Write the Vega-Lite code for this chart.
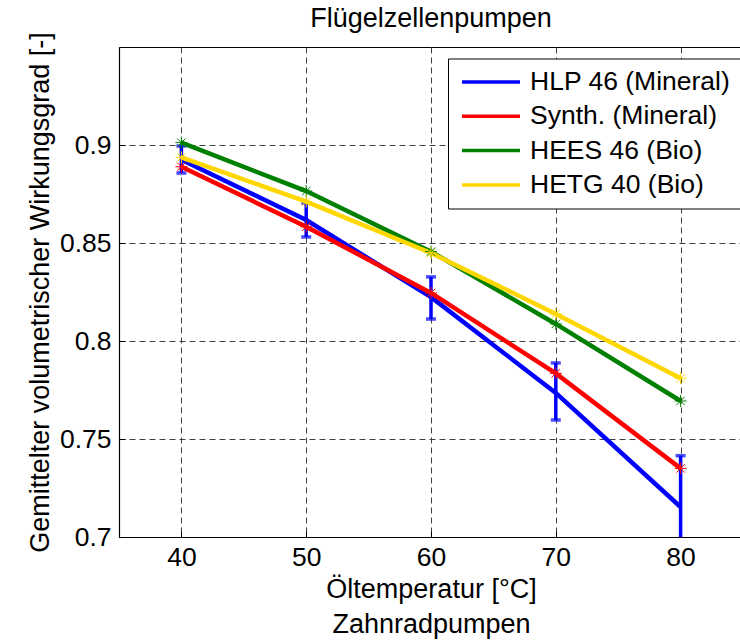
{
  "$schema": "https://vega.github.io/schema/vega-lite/v6.json",
  "width": 624,
  "height": 490,
  "autosize": {"type": "none"},
  "padding": {"left": 119, "top": 47, "right": 0, "bottom": 103},
  "background": "white",
  "title": {"text": "Flügelzellenpumpen", "font": "Liberation Sans", "fontSize": 27, "fontWeight": "normal", "color": "black", "anchor": "middle", "frame": "group", "baseline": "bottom", "offset": 14, "dy": 42},
  "config": {
    "view": {"stroke": "black", "strokeWidth": 1},
    "font": "Liberation Sans",
    "axis": {
      "labelFont": "Liberation Sans", "labelFontSize": 26.5, "labelColor": "black",
      "titleFont": "Liberation Sans", "titleFontSize": 27, "titleFontWeight": "normal", "titleColor": "black",
      "grid": true, "gridColor": "#404040", "gridDash": [6, 4], "gridWidth": 1, "gridOpacity": 1,
      "tickColor": "black", "tickSize": -6, "tickWidth": 1,
      "domainColor": "black", "domainWidth": 1.2
    },
    "legend": {
      "orient": "none", "legendX": 329, "legendY": 11.5,
      "symbolType": "stroke", "symbolSize": 3364, "symbolStrokeWidth": 3.5,
      "labelFont": "Liberation Sans", "labelFontSize": 26.5, "labelColor": "black",
      "strokeColor": "black", "strokeWidth": 1, "fillColor": "white",
      "padding": 10, "rowPadding": 7.3, "clipHeight": 27, "symbolOffset": 2, "labelOffset": 8, "labelLimit": 400
    }
  },
  "datasets": {
    "lines": [
      {"oil": "HLP 46 (Mineral)", "t": 40, "eta": 0.8925},
      {"oil": "HLP 46 (Mineral)", "t": 50, "eta": 0.8617},
      {"oil": "HLP 46 (Mineral)", "t": 60, "eta": 0.8224},
      {"oil": "HLP 46 (Mineral)", "t": 70, "eta": 0.7735},
      {"oil": "HLP 46 (Mineral)", "t": 80, "eta": 0.7153},
      {"oil": "Synth. (Mineral)", "t": 40, "eta": 0.8889},
      {"oil": "Synth. (Mineral)", "t": 50, "eta": 0.8583},
      {"oil": "Synth. (Mineral)", "t": 60, "eta": 0.8245},
      {"oil": "Synth. (Mineral)", "t": 70, "eta": 0.7835},
      {"oil": "Synth. (Mineral)", "t": 80, "eta": 0.735},
      {"oil": "HEES 46 (Bio)", "t": 40, "eta": 0.9012},
      {"oil": "HEES 46 (Bio)", "t": 50, "eta": 0.8765},
      {"oil": "HEES 46 (Bio)", "t": 60, "eta": 0.8456},
      {"oil": "HEES 46 (Bio)", "t": 70, "eta": 0.8087},
      {"oil": "HEES 46 (Bio)", "t": 80, "eta": 0.7694},
      {"oil": "HETG 40 (Bio)", "t": 40, "eta": 0.8937},
      {"oil": "HETG 40 (Bio)", "t": 50, "eta": 0.8711},
      {"oil": "HETG 40 (Bio)", "t": 60, "eta": 0.8449},
      {"oil": "HETG 40 (Bio)", "t": 70, "eta": 0.8138},
      {"oil": "HETG 40 (Bio)", "t": 80, "eta": 0.781}
    ],
    "err": [
      {"t": 40, "lo": 0.8857, "hi": 0.8995},
      {"t": 50, "lo": 0.8531, "hi": 0.8704},
      {"t": 60, "lo": 0.8112, "hi": 0.8327},
      {"t": 70, "lo": 0.7597, "hi": 0.7888},
      {"t": 80, "lo": 0.689, "hi": 0.7415}
    ]
  },
  "layer": [
    {
      "data": {"name": "err"},
      "mark": {"type": "rule", "color": "#0000FF", "strokeWidth": 3.5, "clip": true},
      "encoding": {
        "x": {"field": "t", "type": "quantitative", "scale": {"domain": [35, 85], "nice": false, "zero": false},
              "axis": {"values": [40, 50, 60, 70, 80], "format": "d", "labelPadding": 13,
                       "title": ["Öltemperatur [°C]", "Zahnradpumpen"], "titleLineHeight": 35,
                       "titleBaseline": "alphabetic", "titleX": 312, "titleY": 60, "titleAlign": "center"}},
        "y": {"field": "lo", "type": "quantitative", "scale": {"domain": [0.7, 0.95], "nice": false, "zero": false},
              "axis": {"values": [0.7, 0.75, 0.8, 0.85, 0.9], "format": ".2~f", "labelPadding": 14,
                       "title": "Gemittelter volumetrischer Wirkungsgrad [-]",
                       "titleX": -71, "titleY": 245, "titleAngle": 270, "titleAlign": "center", "titleBaseline": "alphabetic"}},
        "y2": {"field": "hi"}
      }
    },
    {
      "data": {"name": "err"},
      "mark": {"type": "tick", "orient": "horizontal", "color": "#0000FF", "size": 10, "thickness": 3.5, "clip": true},
      "encoding": {
        "x": {"field": "t", "type": "quantitative"},
        "y": {"field": "hi", "type": "quantitative"}
      }
    },
    {
      "data": {"name": "err"},
      "mark": {"type": "tick", "orient": "horizontal", "color": "#0000FF", "size": 10, "thickness": 3.5, "clip": true},
      "encoding": {
        "x": {"field": "t", "type": "quantitative"},
        "y": {"field": "lo", "type": "quantitative"}
      }
    },
    {
      "data": {"name": "lines"},
      "mark": {"type": "line", "strokeWidth": 4.5, "clip": true},
      "encoding": {
        "x": {"field": "t", "type": "quantitative"},
        "y": {"field": "eta", "type": "quantitative"},
        "color": {"field": "oil", "type": "nominal",
                  "scale": {"domain": ["HLP 46 (Mineral)", "Synth. (Mineral)", "HEES 46 (Bio)", "HETG 40 (Bio)"],
                            "range": ["#0000FF", "#FF0000", "#008000", "#FFD700"]},
                  "legend": {"title": null}}
      }
    },
    {
      "data": {"name": "lines"},
      "transform": [{"filter": "datum.oil != 'HLP 46 (Mineral)'"}],
      "mark": {"type": "point", "shape": "M-1,0H1M0,-1V1M-0.7,-0.7L0.7,0.7M-0.7,0.7L0.7,-0.7", "size": 144, "filled": false, "strokeWidth": 1, "opacity": 1, "clip": true},
      "encoding": {
        "x": {"field": "t", "type": "quantitative"},
        "y": {"field": "eta", "type": "quantitative"},
        "color": {"field": "oil", "type": "nominal"}
      }
    }
  ]
}
